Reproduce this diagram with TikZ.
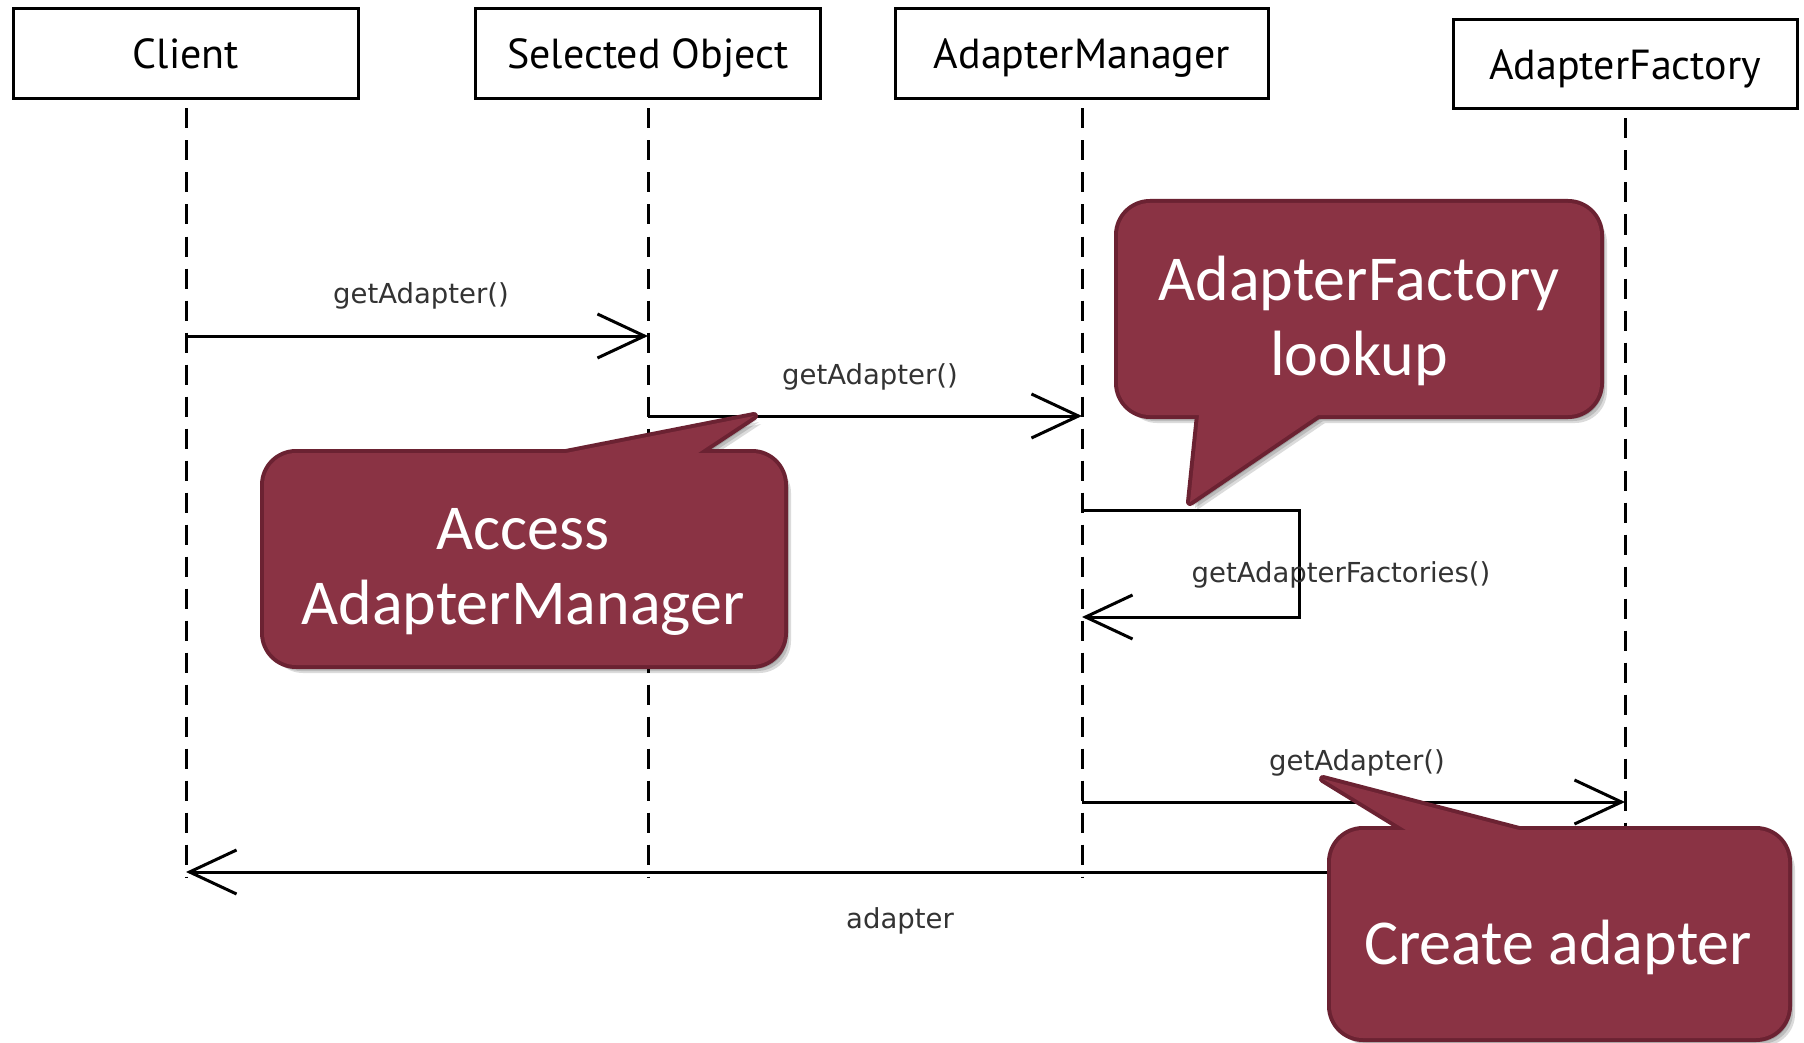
\documentclass[tikz,border=0pt]{standalone}
\usepackage{fontspec}
\setmainfont{DejaVu Sans}
\newfontfamily\titlefont{PT Sans}
\newfontfamily\calloutfont{Carlito}
\newfontfamily\labelfont{DejaVu Sans}
\usetikzlibrary{arrows.meta}
\definecolor{cfill}{HTML}{8A3344}
\definecolor{cedge}{HTML}{6B2232}
\definecolor{lblc}{HTML}{333333}
% #1,#2 top-left, #3,#4 bottom-right, #5 tail base 1, #6 tip, #7 tail base 2
\newcommand{\drawcallout}[7]{%
  \foreach \s in {3,5,7}{%
    \fill[cshadow, rounded corners=32pt, shift={(\s,\s+1)}] (#1,#2) rectangle (#3,#4);
    \fill[cshadow, shift={(\s,\s+1)}] #5 -- #6 -- #7 -- cycle;
  }
  \draw[cedge, line width=8pt, rounded corners=32pt] (#1,#2) rectangle (#3,#4);
  \draw[cedge, line width=8pt, line join=round] #5 -- #6 -- #7 -- cycle;
  \fill[cfill, rounded corners=32pt] (#1,#2) rectangle (#3,#4);
  \fill[cfill] #5 -- #6 -- #7 -- cycle;
}
\begin{document}
\begin{tikzpicture}[x=1pt,y=-1pt,
  box/.style={draw, line width=3pt, minimum height=90pt, inner sep=0pt,
    font=\titlefont\fontsize{42}{50}\selectfont, text height=30pt, text depth=0pt},
  lifeline/.style={line width=3pt, dash pattern=on 20pt off 12pt},
  msg/.style={line width=3pt, -{Straight Barb[length=47pt, width=44pt, line width=3pt]}},
  lbl/.style={font=\labelfont\fontsize{27.5}{33}\selectfont, text=lblc, anchor=base, inner sep=0pt},
  cshadow/.style={fill=black, opacity=0.14},
  ctext/.style={text=white, font=\calloutfont\fontsize{64}{75}\selectfont, align=center, inner sep=0pt}
]
\useasboundingbox (0,0) rectangle (1804,1043);
\fill[white] (0,0) rectangle (1804,1043);

% participants
\node[box, minimum width=345pt] (client) at (186,54) {Client};
\node[box, minimum width=345pt] (sel) at (648,54) {Selected Object};
\node[box, minimum width=373pt] (am) at (1082,54) {AdapterManager};
\node[box, minimum width=344pt, minimum height=89pt] (af) at (1625,64.5) {AdapterFactory};

% lifeline ends
\coordinate (cl-end) at (186,877);
\coordinate (sel-end) at (648,877);
\coordinate (am-end) at (1082,877);
\coordinate (af-end) at (1625,877);
\draw[lifeline] ([yshift=-8pt]client.south) -- (cl-end);
\draw[lifeline] ([yshift=-8pt]sel.south) -- (sel-end);
\draw[lifeline] ([yshift=-8pt]am.south) -- (am-end);
\draw[lifeline] ([yshift=-8pt]af.south) -- (af-end);

% message points
\coordinate (m1s) at (186,336); \coordinate (m1e) at (648,336);
\coordinate (m2s) at (648,416); \coordinate (m2e) at (1082,416);
\coordinate (m3s) at (1082,510); \coordinate (m3a) at (1299,510);
\coordinate (m3b) at (1299,617); \coordinate (m3e) at (1082,617);
\coordinate (m4s) at (1082,802); \coordinate (m4e) at (1625,802);
\coordinate (m5s) at (1625,872); \coordinate (m5e) at (186,872);

\draw[msg] (m1s) -- (m1e);
\draw[msg] (m2s) -- (m2e);
\draw[msg] (m3s) -- (m3a) -- (m3b) -- (m3e);
\draw[msg] (m4s) -- (m4e);
\draw[msg] (m5s) -- (m5e);

\node[lbl] (l1) at (421,303) {getAdapter()};
\node[lbl] (l2) at (870,384) {getAdapter()};
\node[lbl] (l3) at (1341,582) {getAdapterFactories()};
\node[lbl] (l4) at (1357,770) {getAdapter()};
\node[lbl] (l5) at (900,928) {adapter};

% callouts
\drawcallout{264}{453}{784}{665}{(566,453)}{(754,416)}{(698,453)}
\drawcallout{1118}{203}{1600}{415}{(1199,415)}{(1190,502)}{(1318,415)}
\drawcallout{1331}{830}{1788}{1038}{(1406,830)}{(1323,779)}{(1519,830)}

\node[ctext] (ta) at (523,572) {Access\\AdapterManager};
\node[ctext] (tb) at (1359,321) {AdapterFactory\\lookup};
\node[ctext, anchor=base] (tc) at (1558,964) {Create adapter};
\end{tikzpicture}
\end{document}
